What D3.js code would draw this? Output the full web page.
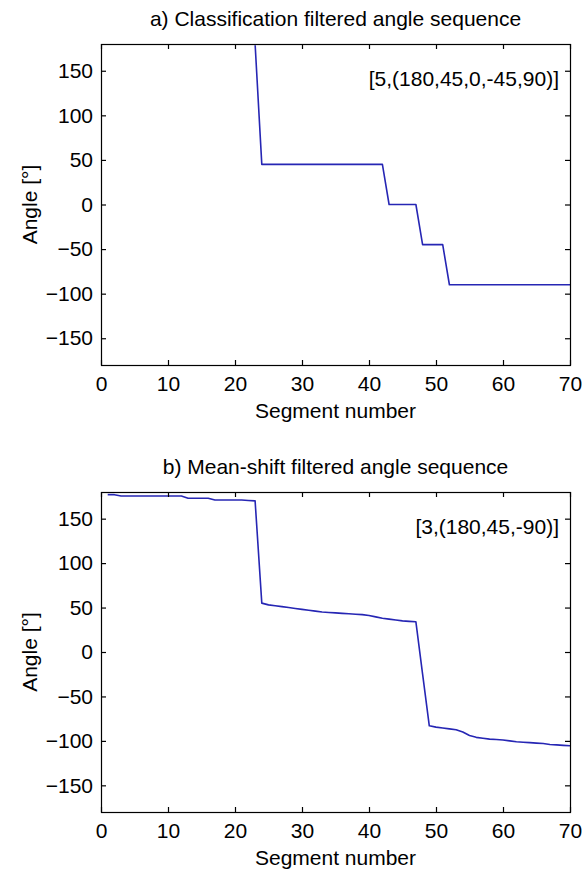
<!DOCTYPE html>
<html>
<head>
<meta charset="utf-8">
<script src="https://cdn.jsdelivr.net/npm/d3@7"></script>
<style>
  html, body { margin: 0; padding: 0; background: #fff; }
  svg { display: block; }
  text { font-family: "Liberation Sans", Arial, sans-serif; fill: #000; }
</style>
</head>
<body>
<svg id="chart" width="587" height="872"></svg>
<script>
// ---- data ----
const segments = d3.range(1, 71);           // segment numbers 1..70
const xTicks = [0, 10, 20, 30, 40, 50, 60, 70];
const yTicks = [-150, -100, -50, 0, 50, 100, 150];

const titleA = "a) Classification filtered angle sequence";
const titleB = "b) Mean-shift filtered angle sequence";
const noteA = "[5,(180,45,0,-45,90)]";
const noteB = "[3,(180,45,-90)]";
const xLabel = "Segment number";
const yLabel = "Angle [°]";

// a) classification filtered angles (one per segment 1..70)
const anglesA = [
  180,180,180,180,180,180,180,180,180,180,
  180,180,180,180,180,180,180,180,180,180,
  180,180,180, 45, 45, 45, 45, 45, 45, 45,
   45, 45, 45, 45, 45, 45, 45, 45, 45, 45,
   45, 45,  0,  0,  0,  0,  0,-45,-45,-45,
  -45,-90,-90,-90,-90,-90,-90,-90,-90,-90,
  -90,-90,-90,-90,-90,-90,-90,-90,-90,-90
];

// b) mean-shift filtered angles (one per segment 1..70)
const anglesB = [
  177,177,175.5,175.5,175.5,175.5,175.5,175.5,175.5,175.5,
  175.5,175.5,173,173,173,173,171,171,171,171,
  171,170.5,170, 55, 53, 52, 51, 50, 49, 48,
   47, 46, 45, 44.5, 44, 43.5, 43, 42.5, 42, 41,
   39.5, 38, 37, 36, 35, 34.5, 34,-25,-83,-84.5,
  -85.5,-86.5,-87.5,-90,-94,-96,-97,-98,-98.5,-99,
  -100,-101,-101.5,-102,-102.5,-103,-104,-104.5,-105,-105.5
];

// ---- drawing ----
const svg = d3.select("#chart");
const FS = 21;
const left = 101, right = 570;
const panels = [
  { top: 44, bottom: 365, values: anglesA, title: titleA, note: noteA },
  { top: 492, bottom: 812, values: anglesB, title: titleB, note: noteB }
];

const x = d3.scaleLinear().domain([0, 70]).range([left, right]);

panels.forEach((p, k) => {
  const y = d3.scaleLinear().domain([-180, 180]).range([p.bottom, p.top]);
  const g = svg.append("g");

  // clip to the inside of the frame
  svg.append("clipPath").attr("id", "clip" + k)
    .append("rect")
    .attr("x", left + 1.2).attr("y", p.top + 1.3)
    .attr("width", right - left - 1.2).attr("height", p.bottom - p.top - 1.3);

  // data line
  const line = d3.line().x((d, i) => x(segments[i])).y(d => y(d));
  g.append("path")
    .datum(p.values)
    .attr("clip-path", `url(#clip${k})`)
    .attr("d", line)
    .attr("fill", "none")
    .attr("stroke", "#2626b4")
    .attr("stroke-width", 1.6)
    .attr("stroke-linejoin", "round");

  // axes (ticks inward, MATLAB box style)
  const styleAxis = (sel) => {
    sel.select(".domain").remove();
    sel.selectAll(".tick line").attr("stroke", "#000").attr("stroke-width", 1.2);
    sel.selectAll(".tick text")
      .style("font-family", "'Liberation Sans', Arial, sans-serif")
      .style("font-size", FS + "px")
      .attr("fill", "#000");
  };

  g.append("g").attr("transform", `translate(0,${p.bottom})`)
    .call(d3.axisBottom(x).tickValues(xTicks).tickSize(-5).tickPadding(11).tickFormat(d3.format("d")))
    .call(styleAxis);
  g.append("g").attr("transform", `translate(0,${p.top})`)
    .call(d3.axisTop(x).tickValues(xTicks).tickSize(-5).tickFormat(""))
    .call(styleAxis);
  g.append("g").attr("transform", `translate(${left},0)`)
    .call(d3.axisLeft(y).tickValues(yTicks).tickSize(-5).tickPadding(8).tickFormat(d3.format("d")))
    .call(styleAxis);
  g.append("g").attr("transform", `translate(${right},0)`)
    .call(d3.axisRight(y).tickValues(yTicks).tickSize(-5).tickFormat(""))
    .call(styleAxis);

  // frame
  g.append("rect")
    .attr("x", left + 0.5).attr("y", p.top + 0.5)
    .attr("width", right - left).attr("height", p.bottom - p.top)
    .attr("fill", "none").attr("stroke", "#000").attr("stroke-width", 1.2);

  // title
  g.append("text")
    .attr("x", (left + right) / 2).attr("y", p.top - 18)
    .attr("text-anchor", "middle")
    .style("font-size", FS + "px")
    .text(p.title);

  // annotation
  g.append("text")
    .attr("x", 559).attr("y", p.top + 42)
    .attr("text-anchor", "end")
    .style("font-size", FS + "px")
    .text(p.note);

  // x label
  g.append("text")
    .attr("x", (left + right) / 2).attr("y", p.bottom + 53)
    .attr("text-anchor", "middle")
    .style("font-size", FS + "px")
    .text(xLabel);

  // y label
  g.append("text")
    .attr("transform", `translate(37,${(p.top + p.bottom) / 2}) rotate(-90)`)
    .attr("text-anchor", "middle")
    .style("font-size", FS + "px")
    .text(yLabel);
});
</script>
</body>
</html>
